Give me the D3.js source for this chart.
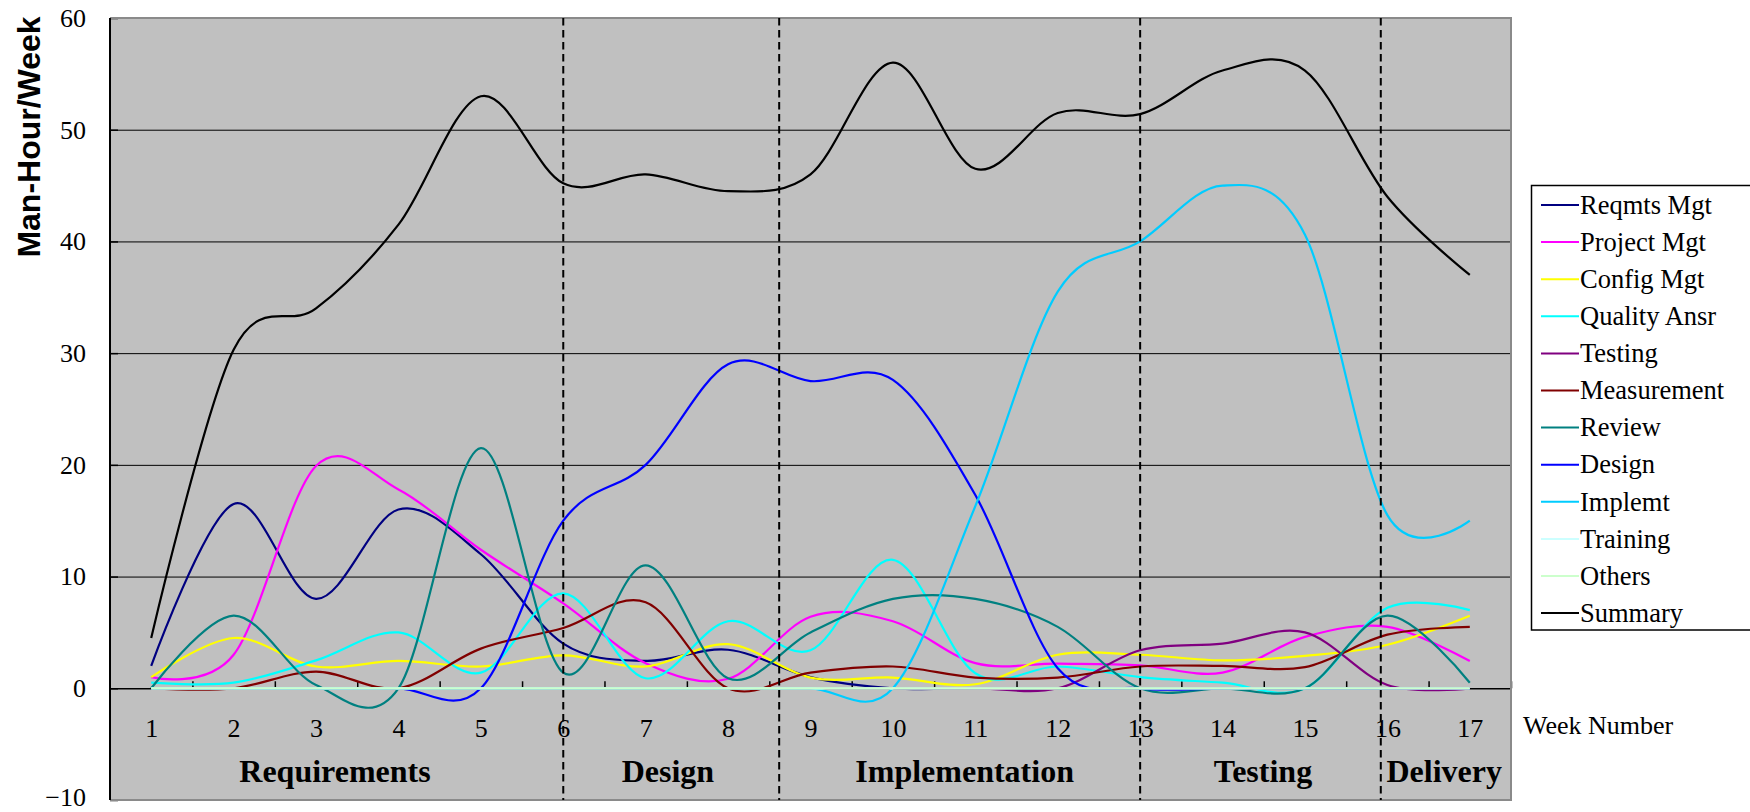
<!DOCTYPE html>
<html>
<head>
<meta charset="utf-8">
<script src="https://cdn.jsdelivr.net/npm/d3@7"></script>
<style>
  html, body { margin: 0; padding: 0; background: #ffffff; }
  svg { display: block; }
</style>
</head>
<body>
<svg id="chart" width="1750" height="812"></svg>
<script>
// Weekly effort per activity (man-hours per week)
const weeks = [1, 2, 3, 4, 5, 6, 7, 8, 9, 10, 11, 12, 13, 14, 15, 16, 17];

const reqmtsMgt   = [2, 16.5, 8, 16, 12, 4, 2.45, 3.45, 1, 0, 0, 0, 0, 0, 0, 0, 0];
const projectMgt  = [1, 3, 19.9, 17.8, 12.4, 7.6, 2.25, 0.85, 6.4, 6, 2.25, 2.2, 2.05, 1.4, 4.6, 5.5, 2.45];
const configMgt   = [1, 4.5, 1.95, 2.45, 1.95, 2.95, 1.95, 3.95, 0.96, 0.96, 0.36, 3, 3, 2.5, 2.9, 3.9, 6.5];
const qualityAnsr = [0.5, 0.5, 2.5, 5, 1.4, 8.5, 0.9, 6, 3.4, 11.5, 1.35, 1.95, 1, 0.5, 0, 7.2, 7];
const testing     = [0, 0, 0, 0, 0, 0, 0, 0, 0, 0, 0, 0, 3.4, 4, 5, 0.3, 0];
const measurement = [0, 0, 1.5, 0, 3.55, 5.4, 7.7, 0, 1.4, 1.95, 0.96, 0.96, 1.95, 2, 1.9, 4.8, 5.5];
const review      = [0, 6.5, 0.3, 0, 21.5, 1.4, 11, 0.9, 5, 8, 8, 5.5, 0, 0, 0, 6.5, 0.5];
const design      = [0, 0, 0, 0, 0, 15, 20, 29, 27.5, 27.6, 17.3, 1.8, 0, 0, 0, 0, 0];
const implemt     = [0, 0, 0, 0, 0, 0, 0, 0, 0, 0, 16.3, 35.5, 40, 45, 40.6, 15.5, 15];
const training    = [0, 0, 0, 0, 0, 0, 0, 0, 0, 0, 0, 0, 0, 0, 0, 0, 0];
const others      = [0, 0, 0, 0, 0, 0, 0, 0, 0, 0, 0, 0, 0, 0, 0, 0, 0];
const summary     = [4.5, 30.3, 34, 41.5, 53, 45.2, 46, 44.5, 46, 56, 46.5, 51.5, 51.4, 55.3, 55.3, 44, 37];

const seriesNames  = ["Reqmts Mgt", "Project Mgt", "Config Mgt", "Quality Ansr", "Testing",
                      "Measurement", "Review", "Design", "Implemt", "Training", "Others", "Summary"];
const seriesValues = [reqmtsMgt, projectMgt, configMgt, qualityAnsr, testing,
                      measurement, review, design, implemt, training, others, summary];
const seriesColors = ["#000080", "#FF00FF", "#FFFF00", "#00FFFF", "#800080",
                      "#800000", "#008080", "#0000FF", "#00CCFF", "#CCFFFF", "#CCFFCC", "#000000"];

// Y axis ticks
const yTicks = [-10, 0, 10, 20, 30, 40, 50, 60];

// Project phases: boundary weeks and label placement (in week units)
const phaseBoundaries = [6, 8.62, 13, 15.92];
const phaseNames   = ["Requirements", "Design", "Implementation", "Testing", "Delivery"];
const phaseCenters = [3.23, 7.27, 10.87, 14.49, 16.69];

// ---- layout ----
const plot = { left: 110, right: 1511, top: 18, bottom: 800 };
const svg = d3.select("#chart");

const x = d3.scaleLinear().domain([0.5, 17.5]).range([plot.left, plot.right]);
const y = d3.scaleLinear().domain([-10, 60]).range([plot.bottom, plot.top]);

const serif = "'Liberation Serif', 'Times New Roman', serif";

// plot background
svg.append("rect")
  .attr("x", plot.left).attr("y", plot.top)
  .attr("width", plot.right - plot.left).attr("height", plot.bottom - plot.top)
  .attr("fill", "#C0C0C0");

// horizontal grid lines
svg.append("g")
  .attr("transform", `translate(${plot.left},0)`)
  .call(d3.axisLeft(y).tickValues(yTicks.filter(v => v !== 0 && v !== -10 && v !== 60))
        .tickSize(-(plot.right - plot.left)).tickFormat(""))
  .call(g => g.select(".domain").remove())
  .call(g => g.selectAll("line").attr("stroke", "#000").attr("stroke-width", 1));

// y axis labels and inward ticks
svg.append("g")
  .attr("transform", `translate(${plot.left},0)`)
  .call(d3.axisLeft(y).tickValues(yTicks).tickSize(0).tickPadding(24))
  .call(g => g.select(".domain").remove())
  .call(g => g.selectAll("text").attr("font-family", serif).attr("font-size", 26).attr("fill", "#000"))
  .call(g => g.selectAll(".tick").filter(d => d === -10).select("text").attr("dy", "0.22em"));
svg.append("g")
  .attr("transform", `translate(${plot.left},0)`)
  .call(d3.axisRight(y).tickValues(yTicks).tickSize(8).tickFormat(""))
  .call(g => g.select(".domain").remove())
  .call(g => g.selectAll("line").attr("stroke", "#000").attr("stroke-width", 1.5));

// category axis along the zero line
const zeroY = y(0);
svg.append("g")
  .attr("transform", `translate(0,${zeroY})`)
  .call(d3.axisTop(x).tickValues(d3.range(1.5, 18, 1)).tickSize(7).tickSizeOuter(0).tickFormat(""))
  .call(g => g.select(".domain").attr("stroke", "#000").attr("stroke-width", 1.5))
  .call(g => g.selectAll("line").attr("stroke", "#000").attr("stroke-width", 1.5));

// week labels
svg.append("g")
  .attr("transform", `translate(0,${zeroY})`)
  .call(d3.axisBottom(x).tickValues(weeks).tickSize(0).tickPadding(30).tickFormat(d3.format("d")))
  .call(g => g.select(".domain").remove())
  .call(g => g.selectAll("text").attr("font-family", serif).attr("font-size", 26).attr("fill", "#000"));

// plot frame: grey on top/right/bottom, black value axis on the left
svg.append("path")
  .attr("d", `M${plot.left},${plot.top}H${plot.right}V${plot.bottom}H${plot.left}`)
  .attr("fill", "none").attr("stroke", "#8a8a8a").attr("stroke-width", 2);
svg.append("line")
  .attr("x1", plot.left).attr("x2", plot.left)
  .attr("y1", plot.top).attr("y2", plot.bottom)
  .attr("stroke", "#000").attr("stroke-width", 2);

// series lines (smoothed)
const line = d3.line()
  .x((d, i) => x(weeks[i]))
  .y(d => y(d))
  .curve(d3.curveCardinal.tension(0));

svg.append("g").selectAll("path")
  .data(seriesValues)
  .join("path")
  .attr("d", d => line(d))
  .attr("fill", "none")
  .attr("stroke", (d, i) => seriesColors[i])
  .attr("stroke-width", 2.2)
  .attr("stroke-linejoin", "round");

// phase boundaries
svg.append("g").selectAll("line")
  .data(phaseBoundaries)
  .join("line")
  .attr("x1", d => x(d)).attr("x2", d => x(d))
  .attr("y1", plot.top).attr("y2", plot.bottom)
  .attr("stroke", "#000").attr("stroke-width", 2)
  .attr("stroke-dasharray", "7.5,4.5");

// phase labels
svg.append("g").selectAll("text")
  .data(phaseNames)
  .join("text")
  .attr("x", (d, i) => x(phaseCenters[i]))
  .attr("y", 782)
  .attr("text-anchor", "middle")
  .attr("font-family", serif)
  .attr("font-weight", "bold")
  .attr("font-size", 32)
  .attr("fill", "#000")
  .text(d => d);

// axis titles
svg.append("text")
  .attr("transform", "translate(40,137) rotate(-90)")
  .attr("text-anchor", "middle")
  .attr("font-family", "'Liberation Sans', Arial, sans-serif")
  .attr("font-weight", "bold")
  .attr("font-size", 32)
  .attr("fill", "#000")
  .text("Man-Hour/Week");

svg.append("text")
  .attr("x", 1523).attr("y", 734)
  .attr("font-family", serif)
  .attr("font-size", 26)
  .attr("fill", "#000")
  .text("Week Number");

// legend
const legend = svg.append("g");
legend.append("rect")
  .attr("x", 1531.5).attr("y", 185.5)
  .attr("width", 260).attr("height", 444.5)
  .attr("fill", "#fff").attr("stroke", "#000").attr("stroke-width", 1.5);

const items = legend.selectAll("g.item")
  .data(seriesNames)
  .join("g")
  .attr("class", "item")
  .attr("transform", (d, i) => `translate(0,${205 + i * 37.1})`);
items.append("line")
  .attr("x1", 1541).attr("x2", 1579)
  .attr("stroke", (d, i) => seriesColors[i])
  .attr("stroke-width", 2);
items.append("text")
  .attr("x", 1580).attr("y", 0).attr("dy", "0.33em")
  .attr("font-family", serif)
  .attr("font-size", 26.5)
  .attr("fill", "#000")
  .text(d => d);
</script>
</body>
</html>
